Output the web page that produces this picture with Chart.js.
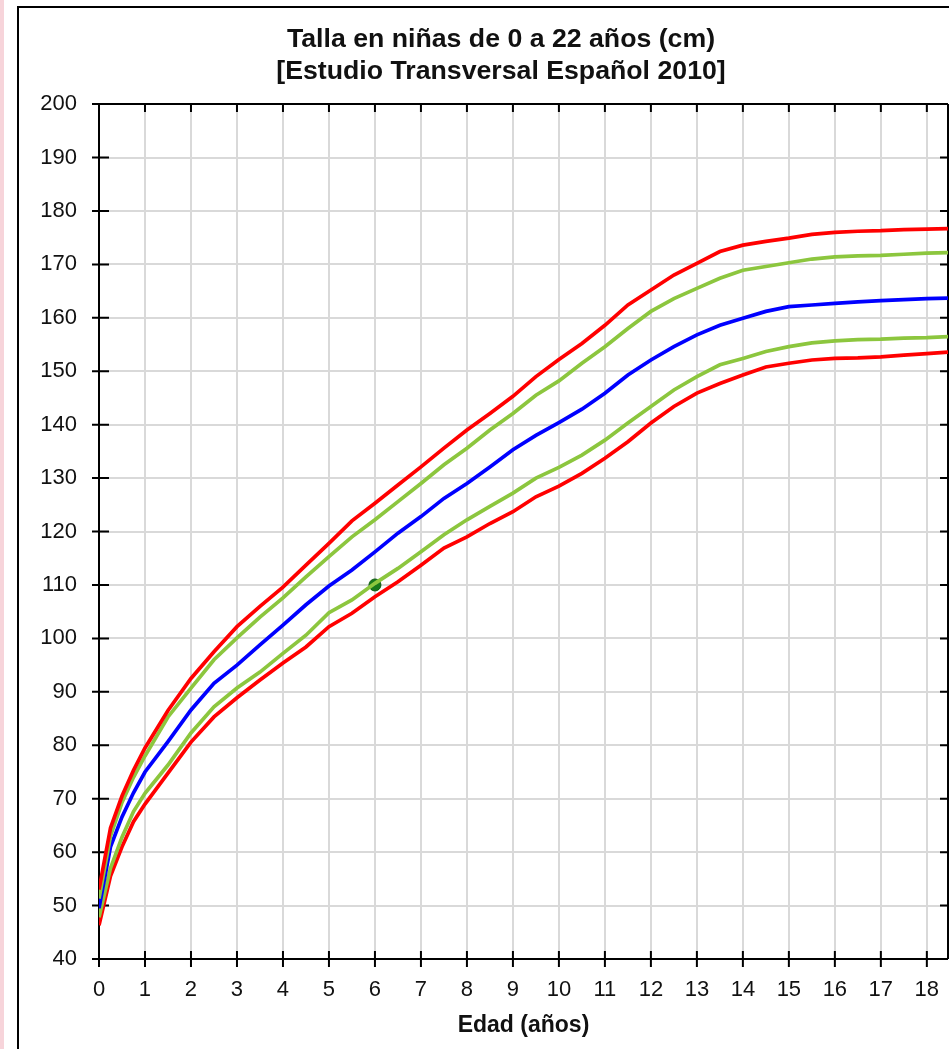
<!DOCTYPE html>
<html lang="es">
<head>
<meta charset="utf-8">
<title>Talla en niñas de 0 a 22 años</title>
<script src="https://cdn.jsdelivr.net/npm/chart.js@4.4.1/dist/chart.umd.min.js"></script>
<style>
  html, body { margin: 0; padding: 0; background: #fff; overflow: hidden; }
  #wrap { position: relative; width: 949px; height: 1049px; overflow: hidden; }
  #strip { position: absolute; left: 0; top: 0; width: 4px; height: 1049px; background: #f7d4da; }
  #marco { position: absolute; left: 17px; top: 6px; width: 1000px; height: 1100px; border: 2px solid #000; box-sizing: border-box; }
  #grafico { position: absolute; left: 0; top: 0; }
</style>
</head>
<body>
<div id="wrap">
  <div id="strip"></div>
  <div id="marco"></div>
  <canvas id="grafico" width="1002" height="1049"></canvas>
</div>
<script>
// Edades (años) de cada punto de las curvas
const edades = [0, 0.25, 0.5, 0.75, 1, 1.5, 2, 2.5, 3, 3.5, 4, 4.5, 5, 5.5, 6, 6.5, 7, 7.5, 8, 8.5,
  9, 9.5, 10, 10.5, 11, 11.5, 12, 12.5, 13, 13.5, 14, 14.5, 15, 15.5, 16, 16.5, 17, 17.5, 18, 18.5];

// Percentiles de talla (cm)
const p97 = [53, 64.5, 70.5, 75.3, 79.5, 86.5, 92.5, 97.5, 102.2, 106, 109.6, 113.7, 117.8, 122, 125.3, 128.7, 132.1, 135.6, 139, 142.1,
  145.3, 149, 152.2, 155.2, 158.6, 162.4, 165.2, 168, 170.2, 172.4, 173.6, 174.3, 174.9, 175.6, 176, 176.2, 176.3, 176.5, 176.6, 176.7];
const p90 = [51.3, 63, 69.3, 74, 78, 85.3, 90.7, 96, 100.1, 104, 107.6, 111.5, 115.3, 119, 122.2, 125.6, 129, 132.5, 135.6, 139,
  142.1, 145.5, 148.2, 151.5, 154.6, 158, 161.2, 163.6, 165.5, 167.4, 168.9, 169.6, 170.3, 171, 171.4, 171.6, 171.7, 171.9, 172.1, 172.2];
const p50 = [49.5, 61, 66.6, 71.1, 75, 80.7, 86.6, 91.6, 95, 98.8, 102.5, 106.3, 109.8, 112.8, 116.2, 119.7, 122.8, 126.2, 129, 132.1,
  135.3, 138, 140.4, 142.9, 145.9, 149.3, 152.1, 154.6, 156.8, 158.6, 159.9, 161.2, 162.1, 162.4, 162.7, 163, 163.2, 163.4, 163.6, 163.7];
const p10 = [47.8, 57, 62.8, 67.6, 71, 76.3, 82.3, 87.2, 90.7, 93.7, 97.2, 100.6, 104.8, 107.2, 110.3, 113.1, 116.2, 119.4, 122.2, 124.7,
  127.2, 130, 132, 134.3, 137.1, 140.3, 143.4, 146.5, 149, 151.2, 152.4, 153.7, 154.6, 155.3, 155.7, 155.9, 156, 156.2, 156.3, 156.5];
const p3 = [46.3, 55.5, 61, 65.7, 69, 74.8, 80.6, 85.3, 88.9, 92.2, 95.4, 98.4, 102.2, 104.7, 107.8, 110.6, 113.7, 116.9, 119, 121.5,
  123.7, 126.5, 128.5, 130.9, 133.7, 136.8, 140.3, 143.4, 145.9, 147.7, 149.3, 150.8, 151.5, 152.1, 152.4, 152.5, 152.7, 153, 153.3, 153.6];

// Medida de la paciente
const pacienteEdad = [6];
const pacienteTalla = [110];

const ROJO = '#ff0000';
const VERDE = '#8cc63e';
const AZUL = '#0000ff';
const FUENTE = '"Liberation Sans", Arial, sans-serif';

function serie(valores) {
  return valores.map((v, i) => ({ x: edades[i], y: v }));
}

function curva(valores, color) {
  return {
    data: serie(valores),
    borderColor: color,
    borderWidth: 3.7,
    pointRadius: 0,
    tension: 0,
    fill: false
  };
}

// Ejes con marcas: izquierda y abajo cruzadas, arriba y derecha hacia dentro
const ejes = {
  id: 'ejes',
  beforeDatasetsDraw(chart) {
    const ctx = chart.ctx;
    const a = chart.chartArea;
    const x = chart.scales.x;
    const y = chart.scales.y;
    ctx.save();
    ctx.strokeStyle = '#000';
    ctx.lineWidth = 2;
    ctx.beginPath();
    ctx.moveTo(a.left - 7, a.top); ctx.lineTo(a.right, a.top);
    ctx.moveTo(a.left - 7, a.bottom); ctx.lineTo(a.right, a.bottom);
    ctx.moveTo(a.left, a.top); ctx.lineTo(a.left, a.bottom + 8);
    ctx.moveTo(a.right, a.top); ctx.lineTo(a.right, a.bottom);
    y.ticks.forEach(t => {
      const py = y.getPixelForValue(t.value);
      ctx.moveTo(a.left - 7, py); ctx.lineTo(a.left + 10, py);
      ctx.moveTo(a.right - 8, py); ctx.lineTo(a.right, py);
    });
    x.ticks.forEach(t => {
      const px = x.getPixelForValue(t.value);
      ctx.moveTo(px, a.bottom - 8); ctx.lineTo(px, a.bottom + 8);
      ctx.moveTo(px, a.top); ctx.lineTo(px, a.top + 8);
    });
    ctx.stroke();
    ctx.restore();
  }
};

new Chart(document.getElementById('grafico'), {
  type: 'line',
  data: {
    datasets: [
      curva(p97, ROJO),
      curva(p90, VERDE),
      curva(p50, AZUL),
      curva(p10, VERDE),
      curva(p3, ROJO),
      {
        type: 'scatter',
        data: pacienteEdad.map((e, i) => ({ x: e, y: pacienteTalla[i] })),
        backgroundColor: '#17781b',
        borderColor: '#0e5c12',
        borderWidth: 1,
        pointRadius: 6
      }
    ]
  },
  options: {
    responsive: false,
    animation: false,
    layout: { padding: 0 },
    plugins: {
      legend: { display: false },
      tooltip: { enabled: false },
      title: {
        display: true,
        text: ['Talla en niñas de 0 a 22 años (cm)', '[Estudio Transversal Español 2010]'],
        color: '#111',
        font: { family: FUENTE, size: 26.7, weight: 'bold', lineHeight: 1.2 },
        padding: { top: 24, bottom: 16 }
      }
    },
    scales: {
      x: {
        type: 'linear',
        min: 0,
        max: 18.46,
        border: { display: false },
        grid: { color: '#d9d9d9', lineWidth: 2, drawTicks: false },
        ticks: {
          stepSize: 1,
          includeBounds: false,
          padding: 18,
          color: '#111',
          font: { family: FUENTE, size: 22 },
          callback: v => Number.isInteger(v) ? v : ''
        },
        title: {
          display: true,
          text: 'Edad (años)',
          color: '#111',
          font: { family: FUENTE, size: 23, weight: 'bold' },
          padding: { top: 4, bottom: 10 }
        },
        afterFit(scale) {
          scale.height = 90;
          scale.paddingLeft = 0;
          scale.paddingRight = 0;
        }
      },
      y: {
        min: 40,
        max: 200,
        border: { display: false },
        grid: { color: '#d9d9d9', lineWidth: 2, drawTicks: false },
        ticks: {
          stepSize: 10,
          padding: 22,
          color: '#111',
          font: { family: FUENTE, size: 22 }
        },
        afterFit(scale) { scale.width = 99; }
      },
      // margen derecho reservado; el título se centra sobre todo el lienzo
      derecha: {
        position: 'right',
        min: 40,
        max: 200,
        border: { display: false },
        grid: { display: false, drawTicks: false },
        ticks: { display: false },
        afterFit(scale) { scale.width = 54; }
      }
    }
  },
  plugins: [ejes]
});
</script>
</body>
</html>
